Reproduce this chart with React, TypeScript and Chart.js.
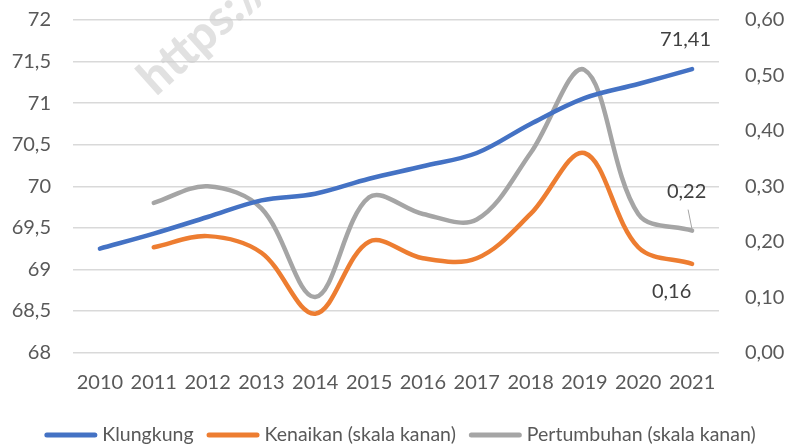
import React, { useEffect, useRef } from 'react';
import { Chart, registerables } from 'chart.js';

Chart.register(...registerables);

const years = ['2010', '2011', '2012', '2013', '2014', '2015', '2016', '2017', '2018', '2019', '2020', '2021'];
const klungkung = [69.25, 69.43, 69.63, 69.83, 69.91, 70.09, 70.24, 70.4, 70.75, 71.06, 71.23, 71.41];
const kenaikan = [null, 0.19, 0.21, 0.18, 0.07, 0.2, 0.17, 0.17, 0.25, 0.36, 0.19, 0.16];
const pertumbuhan = [null, 0.27, 0.3, 0.26, 0.1, 0.28, 0.25, 0.24, 0.36, 0.51, 0.25, 0.22];
const seriesNames = ['Klungkung', 'Kenaikan (skala kanan)', 'Pertumbuhan (skala kanan)'];
const endLabelTexts = ['71,41', '0,16', '0,22'];
const watermarkText = 'https://klungkungkab.bps.go.id';

const FONT = 'Lato, "Open Sans", "Noto Sans", sans-serif';
const TICK_COLOR = '#595959';
const LABEL_COLOR = '#404040';
const COLORS = ['#4472C4', '#ED7D31', '#A5A5A5'];

export default function App() {
  const ref = useRef<HTMLCanvasElement>(null);

  useEffect(() => {
    document.body.style.margin = '0';
    const canvas = ref.current!;

    const watermark = {
      id: 'watermark',
      beforeDatasetsDraw(chart: any) {
        const ctx = chart.ctx;
        ctx.save();
        ctx.translate(156, 97);
        ctx.rotate((-42 * Math.PI) / 180);
        ctx.font = `900 48px ${FONT}`;
        ctx.fillStyle = 'rgba(205,205,205,0.6)';
        ctx.textAlign = 'left';
        ctx.textBaseline = 'alphabetic';
        ctx.fillText(watermarkText, 0, 0);
        ctx.restore();
      },
    };

    const endLabels = {
      id: 'endLabels',
      afterDatasetsDraw(chart: any) {
        const ctx = chart.ctx;
        const offsets = [
          [-6.5, -29],
          [-20.5, 27.5],
          [-5.5, -39.5],
        ];
        ctx.save();
        ctx.font = `20px ${FONT}`;
        ctx.fillStyle = LABEL_COLOR;
        ctx.textAlign = 'center';
        ctx.textBaseline = 'middle';
        for (let i = 0; i < 3; i++) {
          const meta = chart.getDatasetMeta(i);
          const pt = meta.data[meta.data.length - 1];
          ctx.fillText(endLabelTexts[i], pt.x + offsets[i][0], pt.y + offsets[i][1]);
          if (i === 2) {
            ctx.strokeStyle = '#A5A5A5';
            ctx.lineWidth = 1;
            ctx.beginPath();
            ctx.moveTo(pt.x - 4, pt.y - 21);
            ctx.lineTo(pt.x, pt.y - 1);
            ctx.stroke();
          }
        }
        ctx.restore();
      },
    };

    const legendPlugin = {
      id: 'customLegend',
      afterDraw(chart: any) {
        const ctx = chart.ctx;
        ctx.save();
        ctx.font = `19.5px ${FONT}`;
        const lineLen = 53;
        const gap = 5;
        const spacing = 13;
        const widths = seriesNames.map((n) => ctx.measureText(n).width);
        const total = widths.reduce((a, w) => a + lineLen + gap + w, 0) + spacing * (seriesNames.length - 1);
        let x = 400 - total / 2;
        const y = 435;
        for (let i = 0; i < seriesNames.length; i++) {
          ctx.strokeStyle = COLORS[i];
          ctx.lineWidth = 5;
          ctx.lineCap = 'round';
          ctx.beginPath();
          ctx.moveTo(x + 2.5, y);
          ctx.lineTo(x + lineLen - 2.5, y);
          ctx.stroke();
          ctx.fillStyle = TICK_COLOR;
          ctx.textAlign = 'left';
          ctx.textBaseline = 'middle';
          ctx.fillText(seriesNames[i], x + lineLen + gap, y);
          x += lineLen + gap + widths[i] + spacing;
        }
        ctx.restore();
      },
    };

    const lineStyle = {
      borderWidth: 4.5,
      pointRadius: 0,
      tension: 0.35,
      borderCapStyle: 'round' as const,
      borderJoinStyle: 'round' as const,
      fill: false,
    };

    const chart = new Chart(canvas, {
      type: 'line',
      data: {
        labels: years,
        datasets: [
          { label: seriesNames[0], data: klungkung, borderColor: COLORS[0], backgroundColor: COLORS[0], yAxisID: 'y', ...lineStyle },
          { label: seriesNames[1], data: kenaikan, borderColor: COLORS[1], backgroundColor: COLORS[1], yAxisID: 'y1', ...lineStyle },
          { label: seriesNames[2], data: pertumbuhan, borderColor: COLORS[2], backgroundColor: COLORS[2], yAxisID: 'y1', ...lineStyle },
        ],
      },
      options: {
        animation: false,
        responsive: false,
        maintainAspectRatio: false,
        layout: { padding: { top: 20, left: 0, right: 0, bottom: 0 } },
        plugins: { legend: { display: false }, tooltip: { enabled: false } },
        scales: {
          x: {
            offset: true,
            grid: { display: false, drawTicks: false },
            border: { display: false },
            ticks: { font: { family: FONT, size: 20 }, color: TICK_COLOR, padding: 18, maxRotation: 0, autoSkip: false },
            afterFit(s: any) {
              s.height = 93.5;
              s.paddingLeft = 0;
              s.paddingRight = 0;
            },
          },
          y: {
            position: 'left',
            min: 68,
            max: 72,
            ticks: {
              stepSize: 0.5,
              padding: 22,
              font: { family: FONT, size: 20 },
              color: TICK_COLOR,
              callback: (v: any) => String(Number(v)).replace('.', ','),
            },
            grid: { color: '#d9d9d9', lineWidth: 1.5, drawTicks: false },
            border: { display: false },
            afterFit(s: any) {
              s.width = 73;
              s.paddingTop = 0;
              s.paddingBottom = 0;
            },
          },
          y1: {
            position: 'right',
            min: 0,
            max: 0.6,
            ticks: {
              stepSize: 0.1,
              padding: 26,
              font: { family: FONT, size: 20 },
              color: TICK_COLOR,
              callback: (v: any) => Number(v).toFixed(2).replace('.', ','),
            },
            grid: { display: false, drawTicks: false },
            border: { display: false },
            afterFit(s: any) {
              s.width = 70;
              s.paddingTop = 0;
              s.paddingBottom = 0;
            },
          },
        },
      },
      plugins: [watermark, endLabels, legendPlugin],
    });

    return () => chart.destroy();
  }, []);

  return (
    <div style={{ position: 'absolute', left: 0, top: 0, width: 789, height: 446 }}>
      <canvas ref={ref} width={789} height={446} style={{ display: 'block', width: 789, height: 446 }} />
    </div>
  );
}
